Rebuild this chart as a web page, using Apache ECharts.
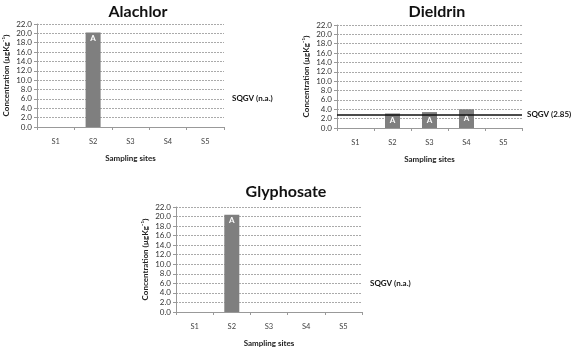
<!DOCTYPE html>
<html>
<head>
<meta charset="utf-8">
<script src="https://cdn.jsdelivr.net/npm/echarts@6/dist/echarts.min.js"></script>
<style>
  html, body { margin: 0; padding: 0; background: #fff; }
  #chart { width: 574px; height: 348px; }
</style>
</head>
<body>
<div id="chart"></div>
<script>
  // sampling sites and concentrations (µg/kg)
  var sites = ['S1', 'S2', 'S3', 'S4', 'S5'];
  var alachlor = [null, 20.2, null, null, null];
  var dieldrin = [null, 3.1, 3.4, 4.0, null];
  var glyphosate = [null, 20.4, null, null, null];
  var dieldrinSqgv = 2.85;
  var naLabelAt = 6; // where the "SQGV (n.a.)" note sits on the y scale
  var yTicks = { min: 0, max: 22, interval: 2 };

  var font = 'Lato, "Open Sans", sans-serif';
  var chart = echarts.init(document.getElementById('chart'));

  var grids = [
    { left: 37, top: 24, width: 187, height: 103 },
    { left: 337, top: 25, width: 185, height: 103 },
    { left: 176, top: 207, width: 186, height: 105 }
  ];

  function xAxis(i) {
    return {
      gridIndex: i,
      type: 'category',
      data: sites,
      name: 'Sampling sites',
      nameLocation: 'middle',
      nameGap: 27,
      nameTextStyle: { fontFamily: font, fontSize: 8, fontWeight: 'bold', color: '#222' },
      axisLine: { lineStyle: { color: '#999' } },
      axisTick: { show: true, length: 3, lineStyle: { color: '#999' } },
      axisLabel: { fontFamily: font, fontSize: 7.5, color: '#444', margin: 11 }
    };
  }

  function yAxis(i) {
    return {
      gridIndex: i,
      type: 'value',
      min: yTicks.min,
      max: yTicks.max,
      interval: yTicks.interval,
      name: 'Concentration (µgKg\u207B\u00B9)',
      nameLocation: 'middle',
      nameRotate: 90,
      nameGap: 27,
      nameTextStyle: { fontFamily: font, fontSize: 8, fontWeight: 'bold', color: '#222' },
      axisLine: { show: true, lineStyle: { color: '#999' } },
      axisTick: { show: true, length: 3, lineStyle: { color: '#999' } },
      axisLabel: {
        fontFamily: font, fontSize: 8, color: '#333', margin: 5,
        formatter: function (v) { return v.toFixed(1); }
      },
      splitLine: { show: true, lineStyle: { color: '#aaa', type: [2, 1], width: 1 } }
    };
  }

  function barSeries(i, data, labelPos, markLine) {
    return {
      type: 'bar',
      xAxisIndex: i,
      yAxisIndex: i,
      data: data,
      barWidth: 15,
      itemStyle: { color: '#7f7f7f' },
      label: {
        show: true,
        position: labelPos,
        distance: 2,
        formatter: 'A',
        color: '#fff',
        fontFamily: font,
        fontWeight: 'bold',
        fontSize: 8
      },
      markLine: markLine
    };
  }

  function naNote() {
    return {
      silent: true,
      symbol: 'none',
      lineStyle: { color: 'rgba(0,0,0,0)', width: 1 },
      label: {
        show: true,
        position: 'end', distance: 8, formatter: 'SQGV (n.a.)',
        fontFamily: font, fontWeight: 'bold', fontSize: 8, color: '#111'
      },
      data: [{ yAxis: naLabelAt }]
    };
  }

  var titleStyle = { fontFamily: font, fontSize: 16, fontWeight: 'bold', color: '#111' };

  chart.setOption({
    animation: false,
    title: [
      { text: 'Alachlor', left: 133, top: -1, textAlign: 'center', textStyle: titleStyle },
      { text: 'Dieldrin', left: 432, top: -1, textAlign: 'center', textStyle: titleStyle },
      { text: 'Glyphosate', left: 281, top: 179, textAlign: 'center', textStyle: titleStyle }
    ],
    grid: grids,
    xAxis: [xAxis(0), xAxis(1), xAxis(2)],
    yAxis: [yAxis(0), yAxis(1), yAxis(2)],
    series: [
      barSeries(0, alachlor, 'insideTop', naNote()),
      barSeries(1, dieldrin, 'inside', {
        silent: true,
        symbol: 'none',
        lineStyle: { color: '#111', type: 'solid', width: 1.5 },
        label: {
          position: 'end', distance: 5, formatter: 'SQGV (' + dieldrinSqgv + ')',
          fontFamily: font, fontWeight: 'bold', fontSize: 8, color: '#111'
        },
        data: [{ yAxis: dieldrinSqgv }]
      }),
      barSeries(2, glyphosate, 'insideTop', naNote())
    ]
  });
</script>
</body>
</html>
